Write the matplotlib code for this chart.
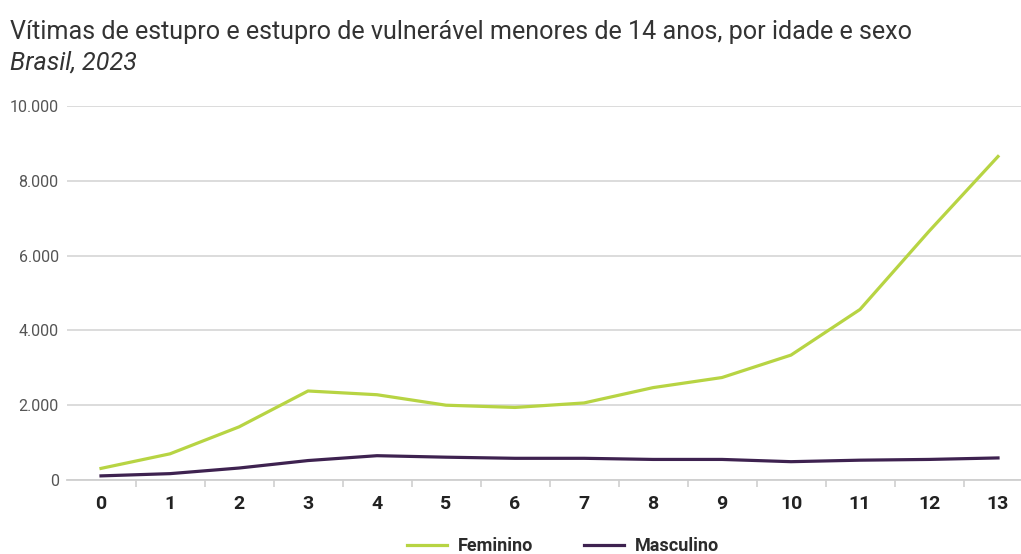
import matplotlib
matplotlib.use("Agg")
import matplotlib.pyplot as plt
from matplotlib.ticker import FuncFormatter, FixedLocator

# Data
idades = list(range(14))
feminino = [310, 700, 1420, 2380, 2280, 2000, 1940, 2060, 2470, 2740, 3340, 4560, 6650, 8650]
masculino = [110, 170, 320, 520, 650, 610, 580, 580, 550, 550, 490, 530, 550, 590]
series_labels = ["Feminino", "Masculino"]
titulo = "Vítimas de estupro e estupro de vulnerável menores de 14 anos, por idade e sexo"
subtitulo = "Brasil, 2023"

verde = "#b7d443"
roxo = "#3e2250"

narrow = ["Roboto", "DejaVu Sans"]
plt.rcParams["font.family"] = narrow

W, H = 1021, 554
fig = plt.figure(figsize=(W / 100, H / 100), dpi=100)
ax = fig.add_axes([67 / W, (H - 480) / H, (W - 67) / W, (480 - 106) / H])

ax.plot(idades, feminino, color=verde, lw=2.3, label=series_labels[0], solid_joinstyle="round")
ax.plot(idades, masculino, color=roxo, lw=2.3, label=series_labels[1], solid_joinstyle="round")

x0 = 101.0
step = (998.0 - 101.0) / 13
ax.set_xlim(-(x0 - 67) / step, (W - x0) / step)
ax.set_ylim(0, 10000)

ax.set_yticks([0, 2000, 4000, 6000, 8000, 10000])
ax.yaxis.set_major_formatter(FuncFormatter(lambda v, p: f"{int(v):,}".replace(",", ".")))
ax.grid(axis="y", color="#d9d9d9", lw=1.3)
ax.set_axisbelow(True)

for s in ["top", "right", "left"]:
    ax.spines[s].set_visible(False)
ax.spines["bottom"].set_color("#cfcfcf")
ax.spines["bottom"].set_linewidth(1.3)

ax.set_xticks(idades)
ax.set_xticklabels([str(i) for i in idades], fontsize=14, fontweight="bold", color="#222222")
ax.xaxis.set_minor_locator(FixedLocator([i - 0.5 for i in range(14)]))
ax.tick_params(axis="x", which="major", length=0, pad=11)
ax.tick_params(axis="x", which="minor", length=5, width=1.2, color="#cfcfcf")
ax.tick_params(axis="y", length=0, pad=6, labelsize=11.5, labelcolor="#555555")

fig.text(10 / W, 1 - 32 / H, titulo, fontsize=18.1, color="#333333", va="center", ha="left")
fig.text(10 / W, 1 - 63 / H, subtitulo, fontsize=18.1, color="#333333", va="center", ha="left",
         style="italic")

leg = fig.legend(loc="center", bbox_to_anchor=(563 / W, 1 - 546 / H), ncol=2, frameon=False,
                 handlelength=2.2, columnspacing=2.8, handletextpad=0.6,
                 prop={"family": narrow, "size": 13, "weight": "bold"})
for t in leg.get_texts():
    t.set_color("#2b2b2b")

fig.savefig("out.png", dpi=100)
